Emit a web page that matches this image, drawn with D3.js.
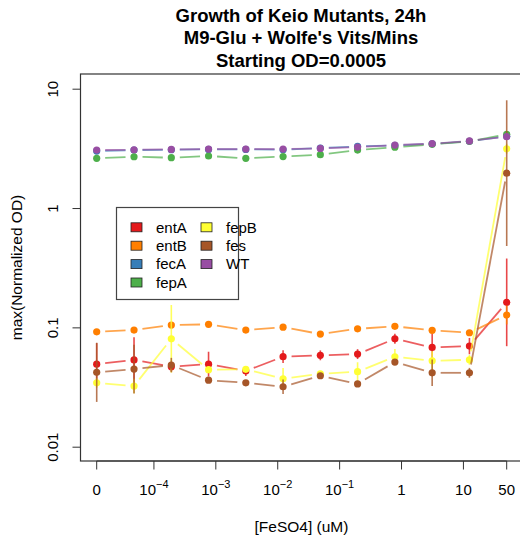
<!DOCTYPE html>
<html>
<head>
<meta charset="utf-8">
<script src="https://cdn.jsdelivr.net/npm/d3@7"></script>
<style>
  body { margin: 0; background: #fff; }
  svg { font-family: "Liberation Sans", Arial, sans-serif; }
</style>
</head>
<body>
<svg width="520" height="539"></svg>
<script>
'use strict';

// FeSO4 concentrations (uM), 4-fold dilution series plus a zero
var conc = [0, 0.0000477, 0.000191, 0.000763, 0.00305, 0.0122, 0.0488, 0.195, 0.781, 3.125, 12.5, 50];
var zeroAt = 0.0000119; // where the "0" column is drawn on the log axis

var strains = ['entA', 'entB', 'fecA', 'fepA', 'fepB', 'fes', 'WT'];
var colors  = ['#E41A1C', '#FF7F00', '#377EB8', '#4DAF4A', '#FFFF33', '#A65628', '#984EA3'];

// max(normalized OD)
var entA = [0.0492, 0.0534, 0.0468, 0.0492, 0.0431, 0.0568, 0.0583, 0.0597, 0.0802, 0.0679, 0.0697, 0.162];
var entB = [0.0918, 0.0949, 0.1045, 0.106, 0.0949, 0.1004, 0.0879, 0.0973, 0.102, 0.0944, 0.0901, 0.127];
var fecA = [3.0, 3.06, 3.08, 3.1, 3.1, 3.08, 3.18, 3.28, 3.35, 3.45, 3.62, 4.0];
var fepA = [2.61, 2.69, 2.64, 2.73, 2.61, 2.70, 2.80, 3.06, 3.23, 3.42, 3.62, 4.15];
var fepB = [0.0343, 0.0322, 0.0802, 0.0442, 0.0445, 0.0371, 0.0408, 0.0425, 0.0567, 0.0525, 0.0535, 3.14];
var fes  = [0.0420, 0.0447, 0.0483, 0.0361, 0.0343, 0.0318, 0.0393, 0.0336, 0.0512, 0.0416, 0.0416, 1.96];
var WT   = [3.06, 3.08, 3.10, 3.12, 3.12, 3.12, 3.16, 3.24, 3.37, 3.46, 3.65, 3.96];

// error bars as geometric (x / divide) spread
var entAErr = [1.5, 1.55, 1.1, 1.27, 1.1, 1.13, 1.1, 1.1, 1.1, 1.31, 1.17, 2.33];
var entBErr = [1.03, 1.03, 1.03, 1.03, 1.03, 1.03, 1.03, 1.03, 1.03, 1.05, 1.05, 1.2];
var fecAErr = [1.02, 1.02, 1.02, 1.02, 1.02, 1.02, 1.02, 1.02, 1.02, 1.02, 1.02, 1.03];
var fepAErr = [1.02, 1.02, 1.02, 1.02, 1.02, 1.02, 1.02, 1.02, 1.02, 1.02, 1.02, 1.03];
var fepBErr = [1.1, 1.15, 1.92, 1.05, 1.05, 1.23, 1.05, 1.2, 1.16, 1.2, 1.1, 1.1];
var fesErr  = [1.77, 1.6, 1.15, 1.05, 1.05, 1.15, 1.05, 1.05, 1.05, 1.29, 1.1, 4.08];
var WTErr   = [1.02, 1.02, 1.02, 1.02, 1.02, 1.02, 1.02, 1.02, 1.02, 1.02, 1.02, 1.03];

var xTicks = [0, 0.0001, 0.001, 0.01, 0.1, 1, 10, 50];
var xTickLabels = ['0', '10|-4', '10|-3', '10|-2', '10|-1', '1', '10', '50'];
var yTicks = [0.01, 0.1, 1, 10];
var yTickLabels = ['0.01', '0.1', '1', '10'];

var series = [
  {name: 'entA', vals: entA, err: entAErr},
  {name: 'entB', vals: entB, err: entBErr},
  {name: 'fecA', vals: fecA, err: fecAErr},
  {name: 'fepA', vals: fepA, err: fepAErr},
  {name: 'fepB', vals: fepB, err: fepBErr},
  {name: 'fes',  vals: fes,  err: fesErr},
  {name: 'WT',   vals: WT,   err: WTErr}
];

var svg = d3.select('svg');
var box = {left: 80.5, right: 523, top: 74, bottom: 461};

var x = d3.scaleLog().domain([zeroAt, 50]).range([96.7, 506.7]);
var y = d3.scaleLog().domain([0.01, 10]).range([446.7, 88.7]);
function xp(c){ return x(c === 0 ? zeroAt : c); }

var color = d3.scaleOrdinal().domain(strains).range(colors);

// title
var title = ['Growth of Keio Mutants, 24h', "M9-Glu + Wolfe's Vits/Mins", 'Starting OD=0.0005'];
svg.append('g').selectAll('text').data(title).enter().append('text')
    .attr('x', 301).attr('y', function(d, i){ return 21.5 + i * 22.6; })
    .attr('text-anchor', 'middle')
    .style('font-size', '18.5px').style('font-weight', 'bold')
    .text(function(d){ return d; });

// plot area
var plot = svg.append('g');

series.forEach(function(s){
  var c = color(s.name);
  var pts = s.vals.map(function(v, i){ return [xp(conc[i]), y(v)]; });
  var g = plot.append('g');

  // type="b": segments with gaps round the points
  var gap = 8.5;
  for (var i = 0; i < pts.length - 1; i++) {
    var p = pts[i], q = pts[i + 1];
    var dx = q[0] - p[0], dy = q[1] - p[1];
    var len = Math.sqrt(dx * dx + dy * dy);
    if (len <= 2 * gap) continue;
    var ux = dx / len, uy = dy / len;
    g.append('line')
      .attr('x1', p[0] + ux * gap).attr('y1', p[1] + uy * gap)
      .attr('x2', q[0] - ux * gap).attr('y2', q[1] - uy * gap)
      .attr('stroke', c).attr('stroke-width', 1.8).attr('stroke-opacity', 0.7);
  }

  g.selectAll('line.err').data(s.vals).enter().append('line')
    .attr('class', 'err')
    .attr('x1', function(d, i){ return xp(conc[i]); })
    .attr('x2', function(d, i){ return xp(conc[i]); })
    .attr('y1', function(d, i){ return y(d * s.err[i]); })
    .attr('y2', function(d, i){ return y(d / s.err[i]); })
    .attr('stroke', c).attr('stroke-width', 1.6).attr('stroke-opacity', 0.8);

  g.selectAll('circle').data(s.vals).enter().append('circle')
    .attr('cx', function(d, i){ return xp(conc[i]); })
    .attr('cy', function(d){ return y(d); })
    .attr('r', 3.6)
    .attr('fill', c);
});

// frame
svg.append('rect')
  .attr('x', box.left).attr('y', box.top)
  .attr('width', box.right - box.left).attr('height', box.bottom - box.top)
  .attr('fill', 'none').attr('stroke', '#333').attr('stroke-width', 1.2);

// y axis
var yAxis = d3.axisLeft(y).tickValues(yTicks).tickSize(8)
  .tickFormat(function(d, i){ return yTickLabels[i]; });
var yg = svg.append('g').attr('transform', 'translate(' + box.left + ',0)').call(yAxis);
yg.select('.domain').attr('stroke', '#333').attr('d', 'M0,' + y(0.01) + 'V' + y(10));
yg.selectAll('.tick line').attr('stroke', '#333');
yg.selectAll('.tick text')
  .attr('x', 0).attr('y', 0).attr('dy', null)
  .attr('text-anchor', 'middle')
  .attr('transform', 'translate(-28,0) rotate(-90)')
  .attr('dominant-baseline', 'central')
  .style('font-size', '15px').attr('fill', '#000');

// x axis
var xg = svg.append('g').attr('transform', 'translate(0,' + box.bottom + ')');
xg.append('line').attr('x1', xp(0)).attr('x2', x(50)).attr('stroke', '#333');
var xt = xg.selectAll('g.tick').data(xTicks).enter().append('g')
  .attr('transform', function(d){ return 'translate(' + xp(d) + ',0)'; });
xt.append('line').attr('y1', 0).attr('y2', 8.5).attr('stroke', '#333');
var xl = xt.append('text').attr('y', 34).attr('text-anchor', 'middle')
  .style('font-size', '15px');
xl.each(function(d, i){
  var parts = xTickLabels[i].split('|');
  var t = d3.select(this);
  t.append('tspan').text(parts[0]);
  if (parts[1]) {
    t.append('tspan').attr('dy', -7).style('font-size', '11px')
      .text(parts[1].replace('-', '\u2212'));
  }
});

// axis titles
svg.append('text').attr('x', 301.5).attr('y', 532)
  .attr('text-anchor', 'middle').style('font-size', '15.5px')
  .text('[FeSO4] (uM)');
svg.append('text')
  .attr('transform', 'translate(22,267.5) rotate(-90)')
  .attr('text-anchor', 'middle').style('font-size', '15.5px')
  .text('max(Normalized OD)');

// legend
var leg = svg.append('g');
leg.append('rect').attr('x', 116.5).attr('y', 207.5).attr('width', 122).attr('height', 92)
  .attr('fill', '#fff').attr('stroke', '#444').attr('stroke-width', 1.2);
var items = leg.selectAll('g.item').data(strains).enter().append('g')
  .attr('transform', function(d, i){
    var col = i < 4 ? 0 : 1, row = i < 4 ? i : i - 4;
    return 'translate(' + (131 + col * 70) + ',' + (227.3 + row * 18.4) + ')';
  });
items.append('rect').attr('x', 0).attr('y', -4.5).attr('width', 11).attr('height', 9)
  .attr('fill', function(d){ return color(d); })
  .attr('stroke', '#222').attr('stroke-width', 0.8);
items.append('text').attr('x', 25).attr('y', 0).attr('dy', '0.35em')
  .style('font-size', '15px')
  .text(function(d){ return d; });
</script>
</body>
</html>
